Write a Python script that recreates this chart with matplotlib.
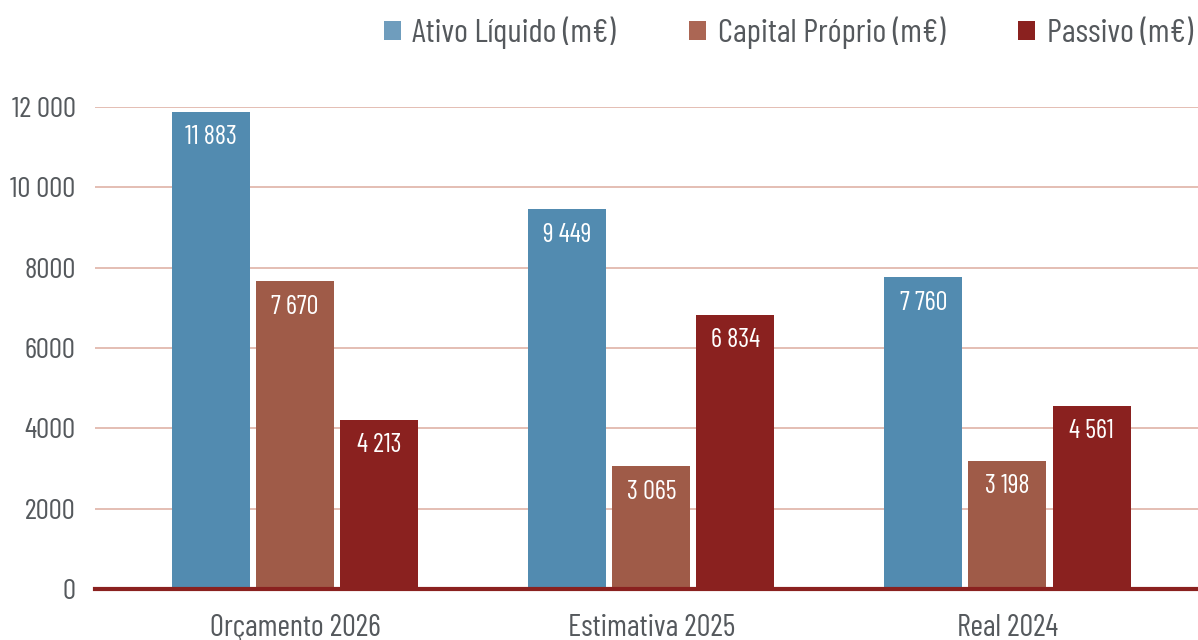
import matplotlib
matplotlib.use("Agg")
import matplotlib.pyplot as plt
from matplotlib.patches import Patch
from matplotlib import font_manager as fm
import numpy as np

available = {f.name for f in fm.fontManager.ttflist}
preferred = ['Barlow Condensed', 'Roboto Condensed', 'PT Sans Narrow', 'Archivo Narrow',
             'Encode Sans Condensed', 'Saira Condensed', 'Liberation Sans Narrow']
chosen = [f for f in preferred if f in available][:1]
plt.rcParams['font.family'] = chosen + ['DejaVu Sans']

categories = ["Orçamento 2026", "Estimativa 2025", "Real 2024"]
series_names = ["Ativo Líquido (m€)", "Capital Próprio (m€)", "Passivo (m€)"]
ativo = [11883, 9449, 7760]
capital = [7670, 3065, 3198]
passivo = [4213, 6834, 4561]
yticks = [0, 2000, 4000, 6000, 8000, 10000, 12000]
ytick_labels = ["0", "2000", "4000", "6000", "8000", "10 000", "12 000"]

colors = ["#528bb0", "#9f5b48", "#8a211f"]
legend_colors = ["#6f9dbd", "#ab6654", "#8a211f"]
text_gray = "#55595d"

fig = plt.figure(figsize=(11.98, 6.40), dpi=100)
ax = fig.add_axes([95/1198, (640-589)/640, (1198-95)/1198, (589-107)/640])

x = np.arange(len(categories))
w = 0.219
step = 0.236
series = [ativo, capital, passivo]
for i, (vals, c) in enumerate(zip(series, colors)):
    pos = x + (i - 1) * step
    bars = ax.bar(pos, vals, width=w, color=c, zorder=3)
    for b, v in zip(bars, vals):
        s = f"{v:,}".replace(",", " ")
        ax.text(b.get_x() + b.get_width()/2, v - 340, s, ha='center', va='top',
                color='white', fontsize=19, zorder=4)

ax.set_xlim(-0.562, 2.535)
ax.set_ylim(0, 12000)
ax.set_yticks(yticks)
ax.set_yticklabels(ytick_labels)
ax.set_xticks(x)
ax.set_xticklabels(categories)
ax.tick_params(axis='y', length=0, pad=14, labelsize=21, labelcolor=text_gray)
ax.tick_params(axis='x', length=0, pad=18, labelsize=22, labelcolor=text_gray)

ax.yaxis.grid(True, color="#dfb3a7", linewidth=1.2, zorder=0)
ax.set_axisbelow(True)
for sp in ['top', 'right', 'left']:
    ax.spines[sp].set_visible(False)
ax.spines['bottom'].set_color("#8a211f")
ax.spines['bottom'].set_linewidth(3)
ax.spines['bottom'].set_zorder(5)

handles = [Patch(facecolor=c, edgecolor='none') for c in legend_colors]
fig.legend(handles, series_names, loc='upper right', bbox_to_anchor=(1.004, 0.99),
           ncol=3, frameon=False, fontsize=24, labelcolor=text_gray,
           handlelength=0.5, handleheight=0.5, handletextpad=0.35, columnspacing=2.2,
           borderaxespad=0.1, borderpad=0.2)

fig.savefig("out.png", dpi=100)
